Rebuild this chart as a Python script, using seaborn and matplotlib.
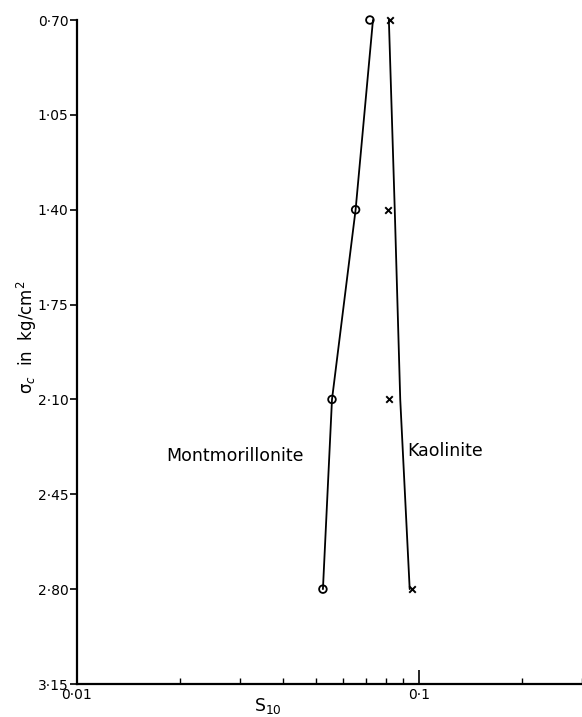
import numpy as np
import pandas as pd
import matplotlib
matplotlib.use("Agg")
import matplotlib.pyplot as plt
import matplotlib.ticker as mticker
import seaborn as sns

# consolidation pressure levels (kg/cm^2), y axis runs downwards
pressure = [0.70, 1.40, 2.10, 2.80]
# measured S10 values (log x axis)
mont_s10 = [0.0719, 0.0653, 0.0557, 0.0524]
kaol_s10 = [0.0823, 0.0812, 0.0817, 0.0954]
# hand-drawn trend lines through the points
mont_line = [0.0734, 0.0653, 0.0557, 0.0524]
kaol_line = [0.0817, 0.0850, 0.0882, 0.0940]

y_ticks = [0.70, 1.05, 1.40, 1.75, 2.10, 2.45, 2.80, 3.15]
y_tick_labels = ["0·70", "1·05", "1·40", "1·75", "2·10", "2·45", "2·80", "3·15"]
x_ticks = [0.01, 0.1]
x_tick_labels = ["0·01", "0·1"]

pts = pd.DataFrame({"pressure": pressure, "mont": mont_s10, "kaol": kaol_s10,
                    "mont_line": mont_line, "kaol_line": kaol_line})

sns.set_style("white")
plt.rcParams['font.family'] = ['DejaVu Sans']
plt.rcParams['text.color'] = 'black'
plt.rcParams['xtick.color'] = 'black'
plt.rcParams['ytick.color'] = 'black'

fig = plt.figure(figsize=(5.82, 7.17), dpi=100)
W, H = 582, 717
ax = fig.add_axes([77 / W, (H - 684) / H, (W - 77) / W, (684 - 20) / H])

sns.lineplot(data=pts, x="mont_line", y="pressure", sort=False, ax=ax,
             color="black", linewidth=1.3, clip_on=False)
sns.lineplot(data=pts, x="kaol_line", y="pressure", sort=False, ax=ax,
             color="black", linewidth=1.3, clip_on=False)
sns.scatterplot(data=pts, x="mont", y="pressure", ax=ax, marker="o", s=30,
                facecolors="none", edgecolor="black", linewidth=1.3,
                zorder=3, clip_on=False)
sns.scatterplot(data=pts, x="kaol", y="pressure", ax=ax, marker="x", s=22,
                color="black", linewidth=1.4, zorder=3, clip_on=False)

ax.set_xscale("log")
ax.set_xlim(0.01, 0.3)
ax.set_ylim(3.15, 0.70)

ax.set_yticks(y_ticks)
ax.set_yticklabels(y_tick_labels, fontsize=10, color="black")
ax.set_xticks(x_ticks)
ax.set_xticklabels(x_tick_labels, fontsize=10, color="black")
ax.xaxis.set_minor_locator(mticker.LogLocator(base=10, subs=np.arange(2, 10)))
ax.xaxis.set_minor_formatter(mticker.NullFormatter())

ax.tick_params(axis="y", direction="out", length=5, width=1.2, pad=1, left=True)
ax.tick_params(axis="x", which="major", direction="in", length=10, width=1.2, pad=3, bottom=True)
ax.tick_params(axis="x", which="minor", direction="in", length=4, width=1.0, bottom=True)

for side in ["top", "right"]:
    ax.spines[side].set_visible(False)
for side in ["left", "bottom"]:
    ax.spines[side].set_color("black")
    ax.spines[side].set_linewidth(1.6)

ax.set_xlabel("")
ax.set_ylabel("")

ax.text(0.0183, 2.31, "Montmorillonite", fontsize=12.5, va="center", ha="left", color="black")
ax.text(0.0922, 2.29, "Kaolinite", fontsize=12.5, va="center", ha="left", color="black")

fig.text(268 / W, 1 - 706 / H, r"S$_{10}$", fontsize=12.5, ha="center", va="center")
fig.text(27 / W, 1 - 337 / H, "σ$_c$  in  kg/cm$^2$", fontsize=12,
         rotation=90, ha="center", va="center")

fig.savefig("out.png", dpi=100)
